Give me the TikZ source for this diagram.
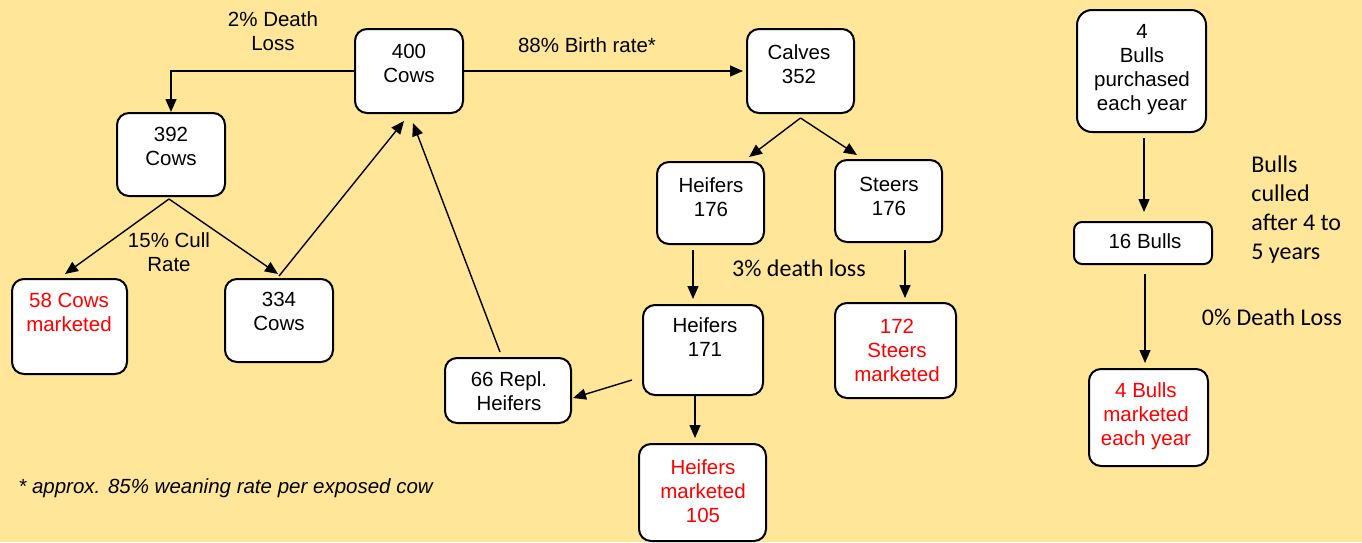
\documentclass[tikz,border=0pt]{standalone}
\usepackage{fontspec}
\setmainfont{Liberation Sans}
\newfontfamily\calib{Carlito}
\usetikzlibrary{arrows.meta,calc}
\definecolor{bg}{RGB}{255,230,153}
\definecolor{mkt}{RGB}{255,0,0}
\begin{document}
\begin{tikzpicture}[x=0.5pt,y=-0.5pt,
  boxnode/.style={draw=black,line width=1pt,fill=white,rounded corners=6pt,inner sep=0pt},
  txt/.style={font=\fontsize{10.25}{12}\selectfont,align=center,inner sep=0pt},
  red/.style={text=mkt},
  cal/.style={font=\calib\fontsize{12}{14.5}\selectfont,inner sep=0pt},
  arr/.style={line width=0.7pt,-{Triangle[length=6.5pt,width=5.5pt]}}]
\useasboundingbox (0,0) rectangle (1362,542);
\fill[bg] (0,0) rectangle (1362,542);

% boxes
\node[boxnode,minimum width=54pt,minimum height=42pt] (cows400) at (409,71) {};
\node[boxnode,minimum width=54pt,minimum height=41.5pt] (cows392) at (171,154.5) {};
\node[boxnode,minimum width=57.5pt,minimum height=47.5pt] (cows58) at (69.5,326.5) {};
\node[boxnode,minimum width=54pt,minimum height=41.5pt] (cows334) at (279,320.5) {};
\node[boxnode,minimum width=53.5pt,minimum height=42pt] (calves) at (800.5,71) {};
\node[boxnode,minimum width=53.5pt,minimum height=41pt] (h176) at (710.5,203) {};
\node[boxnode,minimum width=53.5pt,minimum height=41pt] (s176) at (888.5,201) {};
\node[boxnode,minimum width=60pt,minimum height=45pt] (h171) at (703,350) {};
\node[boxnode,minimum width=60.5pt,minimum height=47.5pt] (s172) at (895.5,350.5) {};
\node[boxnode,minimum width=63pt,minimum height=32.5pt] (repl) at (508,390.5) {};
\node[boxnode,minimum width=63.5pt,minimum height=48.5pt] (hm) at (702.5,492.5) {};
\node[boxnode,rounded corners=7.5pt,minimum width=64.5pt,minimum height=61pt] (bp) at (1141.5,71) {};
\node[boxnode,rounded corners=4pt,minimum width=69pt,minimum height=21pt] (b16) at (1143,243) {};
\node[boxnode,minimum width=59.5pt,minimum height=48.5pt] (bm) at (1148.5,417.5) {};

% box texts
\node[txt] (t400) at (409,63.5) {400\\Cows};
\node[txt] (t392) at (171,146.5) {392\\Cows};
\node[txt,red] (t58) at (69,312.5) {58 Cows\\marketed};
\node[txt] (t334) at (279,311.5) {334\\Cows};
\node[txt] (tcalves) at (799,64) {Calves\\352};
\node[txt] (th176) at (711,197.5) {Heifers\\176};
\node[txt] (ts176) at (889,196) {Steers\\176};
\node[txt] (th171) at (705,337.5) {Heifers\\171};
\node[txt,red] (ts172) at (897,350) {172\\Steers\\marketed};
\node[txt] (trepl) at (509,391.5) {66 Repl.\\Heifers};
\node[txt,red] (thm) at (703,491.5) {Heifers\\marketed\\105};
\node[txt] (tbp) at (1142,70) {4\\Bulls\\purchased\\each year};
\node[txt] (t16) at (1145,241) {16 Bulls};
\node[txt,red] (tbm) at (1146,416) {4 Bulls\\marketed\\each year};

% labels
\node[txt] (ldeath) at (273,31) {2\% Death\\Loss};
\node[txt] (lbirth) at (587,45) {88\% Birth rate*};
\node[txt] (lcull) at (169,252) {15\% Cull\\Rate};
\node[cal] (lh3) at (799,268) {3\% death loss};
\node[cal,align=left,anchor=west] (lbcull) at (1251,210) {Bulls\\culled\\after 4 to\\5 years};
\node[cal] (lb0) at (1272,317) {0\% Death Loss};
\node[txt,font=\itshape\fontsize{10.25}{12}\selectfont,anchor=west] (foot) at (18,488) {* approx. 85\% weaning rate per exposed cow};

% connectors
\draw[arr] (cows400.west) -| (cows392.north);
\draw[arr] (cows400.east) -- ($(calves.west)+(-3,0)$);
\coordinate (split392) at ($(cows392.south)+(-2,2)$);
\draw[arr] (split392) -- ($(cows58.north)+(-4.5,-4)$);
\draw[arr] (split392) -- ($(cows334.north)+(-1,-4)$);
\draw[arr] ($(cows334.north)+(0,-2)$) -- ($(cows400.south)+(-5,7)$);
\draw[arr] ($(repl.north)+(-8,-5)$) -- ($(cows400.south)+(4,9)$);
\coordinate (splitcalves) at ($(calves.south)+(0,4)$);
\draw[arr] (splitcalves) -- ($(h176.north east)+(-16,-4)$);
\draw[arr] (splitcalves) -- ($(s176.north west)+(23,-4)$);
\draw[arr] ($(h176.south)+(-17.5,5)$) -- ($(h171.north)+(-10,-5)$);
\draw[arr] ($(s176.south)+(16.5,7)$) -- ($(s172.north)+(9.5,-4)$);
\draw[arr] ($(h171.west)+(-10,30)$) -- ($(repl.east)+(1,7.5)$);
\draw[arr] ($(h171.south)+(-8,0)$) -- ($(hm.north)+(-7.5,-5)$);
\draw[arr] ($(bp.south)+(2.5,5)$) -- ($(b16.north)+(1,-9)$);
\draw[arr] ($(b16.south)+(2,9)$) -- ($(bm.north)+(-3.5,-5)$);
\end{tikzpicture}
\end{document}
